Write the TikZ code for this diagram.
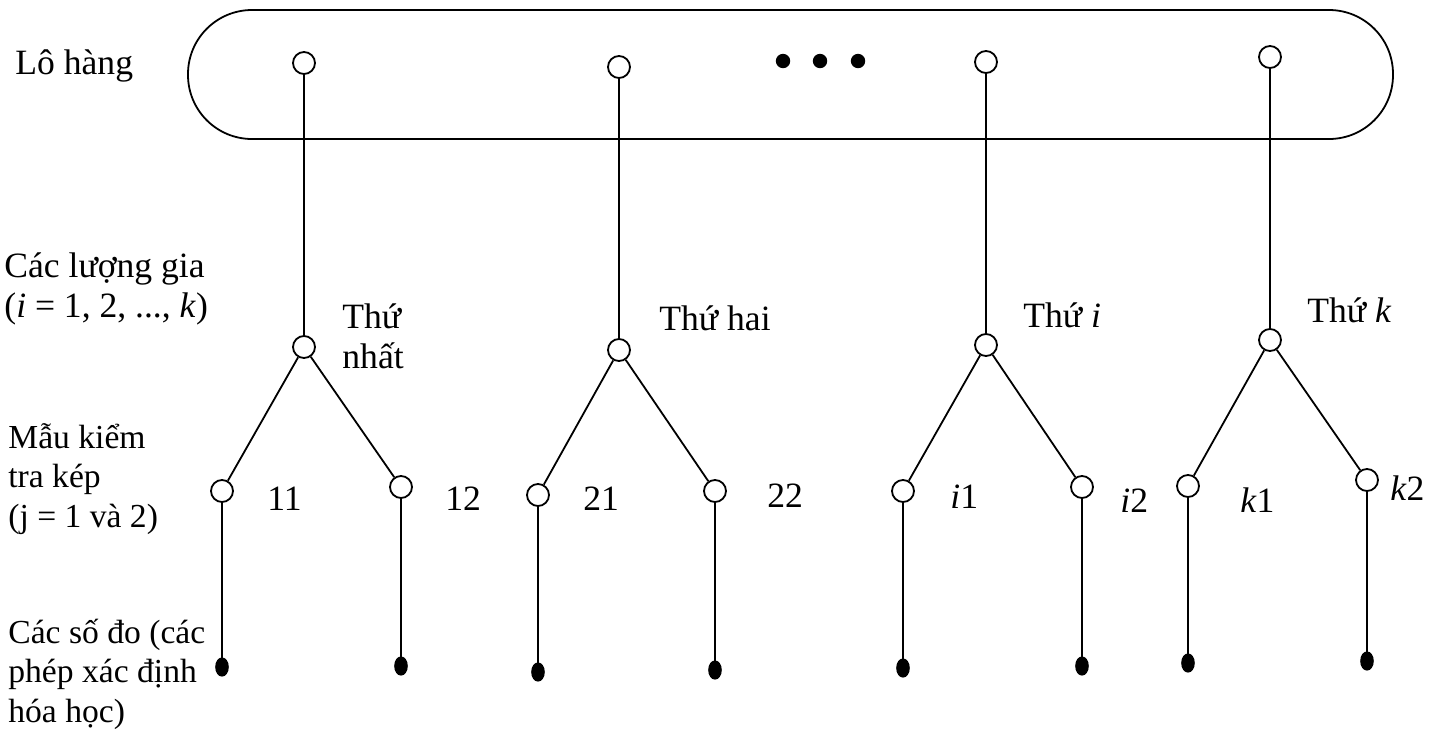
\documentclass[tikz,border=0pt]{standalone}
\usepackage{fontspec}
\setmainfont{Liberation Serif}
\usetikzlibrary{shapes.geometric}
\begin{document}
\begin{tikzpicture}[x=0.5pt,y=-0.5pt,
  every node/.style={font=\fontsize{17.8}{19.8}\selectfont},
  lbl/.style={anchor=base west, inner sep=0pt, align=left},
  nlbl/.style={lbl, font=\fontsize{16.8}{19.6}\selectfont},
  opn/.style={circle, draw, line width=0.9pt, fill=white, minimum size=11pt, inner sep=0pt},
  sld/.style={ellipse, fill=black, minimum width=6.8pt, minimum height=9.6pt, inner sep=0pt},
  dotm/.style={circle, fill=black, minimum size=7.2pt, inner sep=0pt},
  conn/.style={line width=0.9pt}]
\useasboundingbox (0,0) rectangle (1441,729);
% lot (stadium)
\node[draw, line width=0.9pt, rounded corners=32pt, minimum width=602.5pt, minimum height=64.5pt, inner sep=0pt] (lot) at (790.5,74.5) {};
% top circles
\node[opn] (t1) at (304,63) {};
\node[opn] (t2) at (619,67) {};
\node[opn] (t3) at (986,62) {};
\node[opn] (t4) at (1270,57) {};
\node[dotm] (d1) at (783,61) {};
\node[dotm] (d2) at (820,61) {};
\node[dotm] (d3) at (858,61) {};
% middle circles
\node[opn] (m1) at (304,347) {};
\node[opn] (m2) at (619,350) {};
\node[opn] (m3) at (986,345) {};
\node[opn] (m4) at (1270,340) {};
% lower circles
\node[opn] (l11) at (222,491) {};
\node[opn] (l12) at (401,487) {};
\node[opn] (l21) at (538,495) {};
\node[opn] (l22) at (715,491) {};
\node[opn] (l31) at (903,491) {};
\node[opn] (l32) at (1082,487) {};
\node[opn] (l41) at (1188,486) {};
\node[opn] (l42) at (1367,480) {};
% filled measurement dots
\node[sld] (s11) at (222,667) {};
\node[sld] (s12) at (401,666) {};
\node[sld] (s21) at (538,672) {};
\node[sld] (s22) at (715,670) {};
\node[sld] (s31) at (903,668) {};
\node[sld] (s32) at (1082,666) {};
\node[sld] (s41) at (1188,663) {};
\node[sld] (s42) at (1367,661) {};
% connectors
\foreach \i in {1,2,3,4} {
  \draw[conn] (t\i) -- (m\i);
  \draw[conn] (m\i) -- (l\i1);
  \draw[conn] (m\i) -- (l\i2);
  \draw[conn] (l\i1) -- (s\i1.center);
  \draw[conn] (l\i2) -- (s\i2.center);
}
% left labels (anchor = baseline of last line)
\node[lbl] (a1) at (15,74) {Lô hàng};
\node[lbl] (a2) at (4,317) {Các lượng gia\\(\textit{i} = 1, 2, ..., \textit{k})};
\node[nlbl] (a3) at (8,527) {Mẫu kiểm\\tra kép\\(j = 1 và 2)};
\node[nlbl] (a4) at (8,722) {Các số đo (các\\phép xác định\\hóa học)};
% branch labels
\node[lbl] (b1) at (342,368) {Thứ\\nhất};
\node[lbl] (b2) at (659,330) {Thứ hai};
\node[lbl] (b3) at (1023,327) {Thứ \textit{i}};
\node[lbl] (b4) at (1307,322) {Thứ \textit{k}};
% sample labels
\node[lbl] (c11) at (267,510) {11};
\node[lbl] (c12) at (445,510) {12};
\node[lbl] (c21) at (583,510) {21};
\node[lbl] (c22) at (767,507) {22};
\node[lbl] (c31) at (950,508) {\textit{i}1};
\node[lbl] (c32) at (1120,512) {\textit{i}2};
\node[lbl] (c41) at (1240,512) {\textit{k}1};
\node[lbl] (c42) at (1390,500) {\textit{k}2};
\end{tikzpicture}
\end{document}
